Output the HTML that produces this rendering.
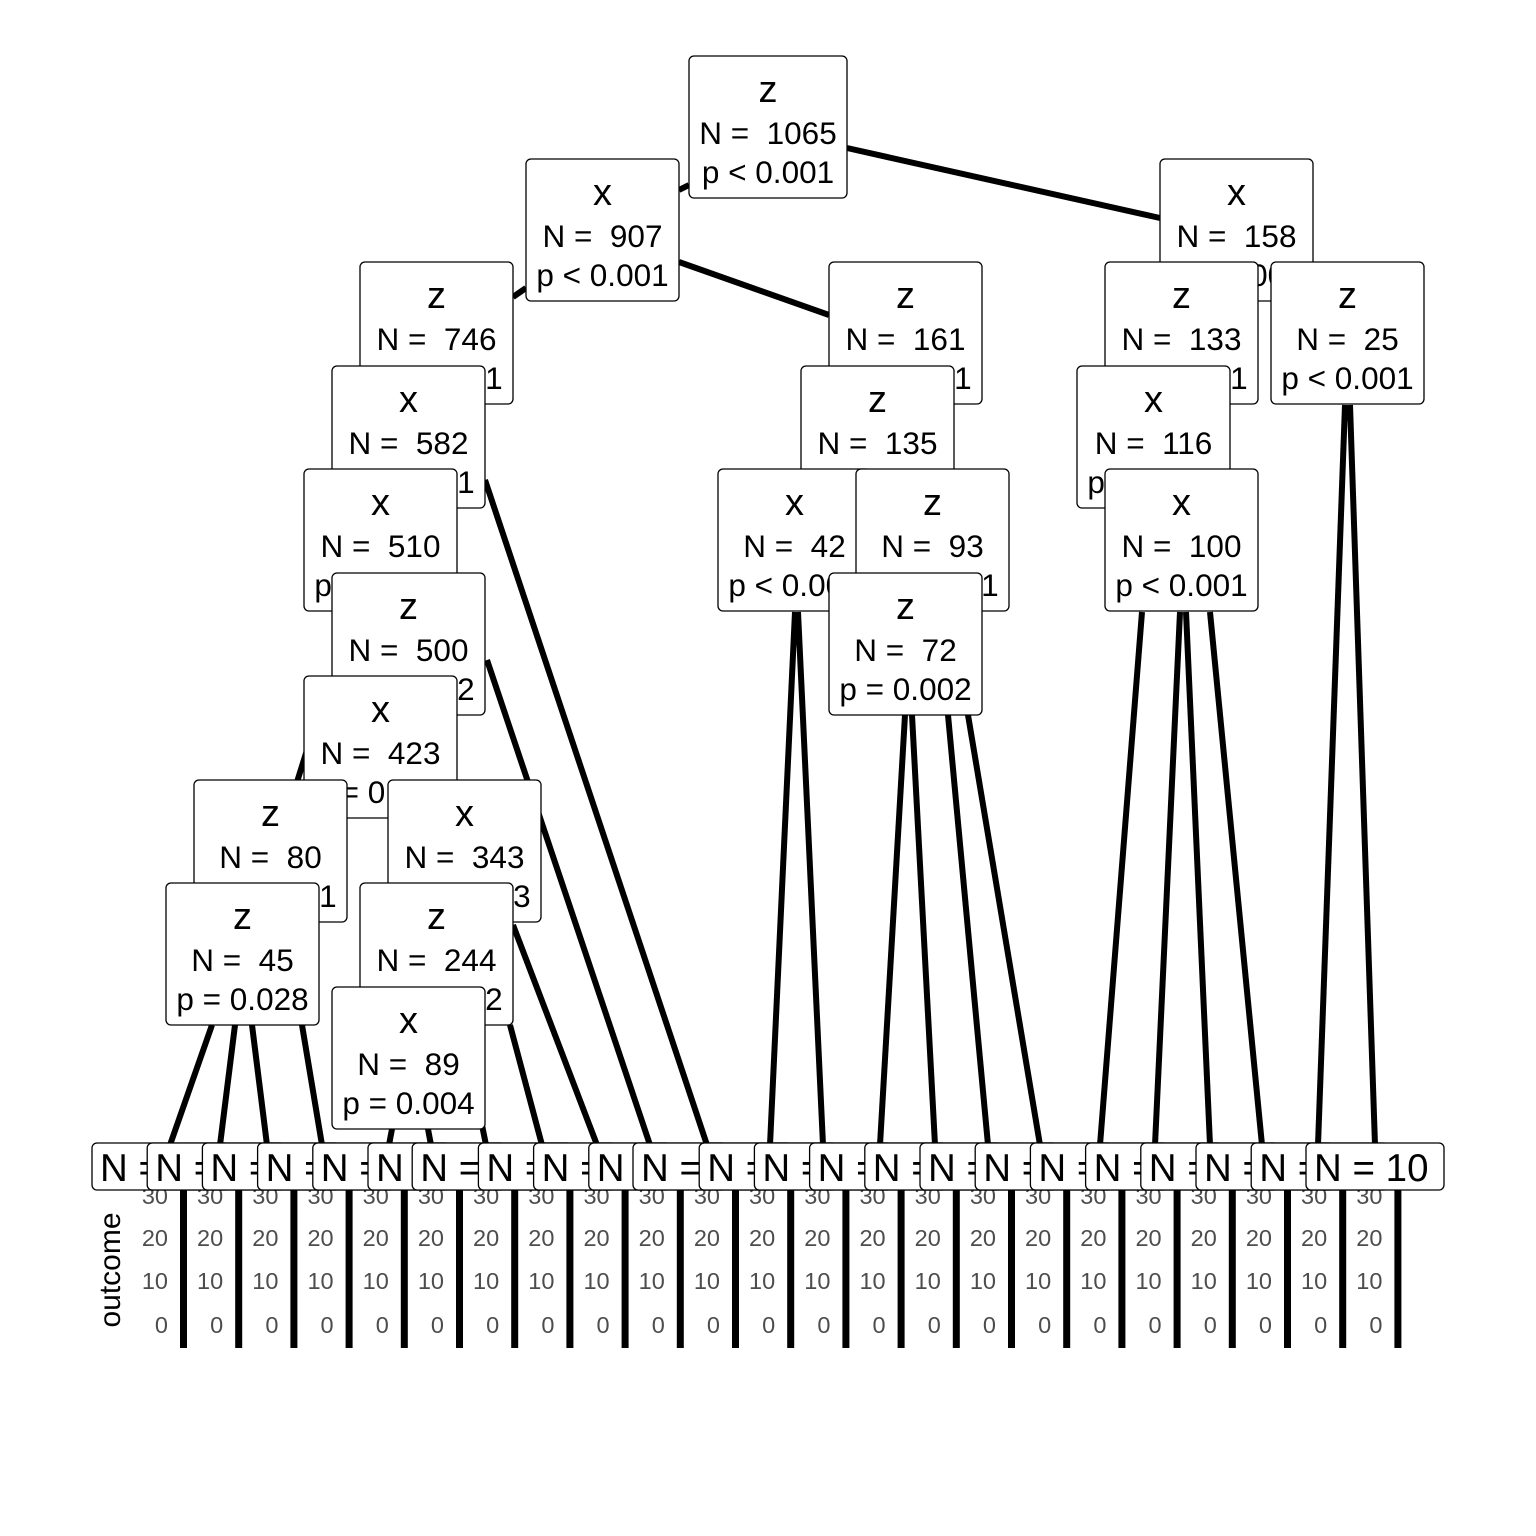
<!DOCTYPE html>
<html><head><meta charset="utf-8"><style>
html,body{margin:0;padding:0;background:#fff;}
svg{display:block;}
text{font-family:"Liberation Sans",Arial,sans-serif;white-space:pre;}
</style></head><body>
<svg width="1536" height="1536" viewBox="0 0 1536 1536" xmlns="http://www.w3.org/2000/svg" xml:space="preserve">
<rect width="1536" height="1536" fill="#fff"/>
<g stroke="#000" stroke-width="6" stroke-linecap="butt">
<line x1="689" y1="185" x2="679" y2="190"/>
<line x1="847" y1="148" x2="1160" y2="218"/>
<line x1="679" y1="262" x2="829" y2="315"/>
<line x1="513" y1="297" x2="526" y2="288"/>
<line x1="485" y1="480" x2="707" y2="1145"/>
<line x1="487" y1="660" x2="650" y2="1145"/>
<line x1="513" y1="925" x2="597" y2="1145"/>
<line x1="510" y1="1025" x2="542" y2="1145"/>
<line x1="307" y1="750" x2="297" y2="782"/>
<line x1="212" y1="1025" x2="170" y2="1145"/>
<line x1="235" y1="1025" x2="220" y2="1145"/>
<line x1="252" y1="1025" x2="267" y2="1145"/>
<line x1="302" y1="1025" x2="322" y2="1145"/>
<line x1="392" y1="1129" x2="389" y2="1145"/>
<line x1="428" y1="1129" x2="431" y2="1145"/>
<line x1="482" y1="1125" x2="486" y2="1145"/>
<line x1="795" y1="612" x2="770" y2="1145"/>
<line x1="798" y1="612" x2="823" y2="1145"/>
<line x1="905" y1="715" x2="880" y2="1145"/>
<line x1="912" y1="715" x2="935" y2="1145"/>
<line x1="948" y1="715" x2="988" y2="1145"/>
<line x1="968" y1="715" x2="1040" y2="1145"/>
<line x1="1142" y1="612" x2="1100" y2="1145"/>
<line x1="1180" y1="612" x2="1155" y2="1145"/>
<line x1="1186" y1="612" x2="1210" y2="1145"/>
<line x1="1210" y1="612" x2="1262" y2="1145"/>
<line x1="1345" y1="405" x2="1318" y2="1145"/>
<line x1="1350" y1="405" x2="1375" y2="1145"/>
</g>
<g id="axes" font-size="23.5" fill="#4d4d4d" text-anchor="end"></g>
<g id="bars" fill="#000"></g>
<g id="nodes" font-size="31.5" text-anchor="middle"></g>
<g id="leaves" font-size="38.5" text-anchor="start"></g>
<text x="0" y="0" font-size="30" fill="#000" text-anchor="middle" transform="translate(120,1270) rotate(-90)">outcome</text>
<script>
var NS="http://www.w3.org/2000/svg";
function el(p,t,a,txt){var e=document.createElementNS(NS,t);for(var k in a)e.setAttribute(k,a[k]);if(txt!=null)e.textContent=txt;p.appendChild(e);return e;}
var ax=document.getElementById('axes'),bars=document.getElementById('bars');
for(var i=0;i<23;i++){var x=180+55.2*i;
 [["30",1204],["20",1246],["10",1289],["0",1333]].forEach(function(t){el(ax,'text',{x:x-12,y:t[1]},t[0]);});
 el(bars,'rect',{x:x,y:1190,width:7,height:158});}
var nodes=[
["z","1065","p < 0.001",689,56,158],
["x","907","p < 0.001",526,159,153],
["x","158","p = 0.001",1160,159,153],
["z","746","p < 0.001",360,262,153],
["z","161","p < 0.001",829,262,153],
["z","133","p < 0.001",1105,262,153],
["z","25","p < 0.001",1271,262,153],
["x","582","p < 0.001",332,366,153],
["z","135","p < 0.001",801,366,153],
["x","116","p < 0.001",1077,366,153],
["x","510","p < 0.001",304,469,153],
["x","42","p < 0.001",718,469,153],
["z","93","p < 0.001",856,469,153],
["x","100","p < 0.001",1105,469,153],
["z","500","p = 0.002",332,573,153],
["z","72","p = 0.002",829,573,153],
["x","423","p = 0.001",304,676,153],
["z","80","p = 0.001",194,780,153],
["x","343","p = 0.003",388,780,153],
["z","45","p = 0.028",166,883,153],
["z","244","p = 0.002",360,883,153],
["x","89","p = 0.004",332,987,153]];
var ng=document.getElementById('nodes');
nodes.forEach(function(n){var x=n[3],y=n[4],w=n[5],c=x+w/2;
 el(ng,'rect',{x:x,y:y,width:w,height:142,rx:5,fill:'#fff',stroke:'#000','stroke-width':1.3});
 el(ng,'text',{x:c,y:y+46,'font-size':38},n[0]);
 el(ng,'text',{x:c,y:y+88},"N =  "+n[1]);
 el(ng,'text',{x:c,y:y+127},n[2]);});
var lg=document.getElementById('leaves');
for(var i=0;i<23;i++){var big=(i==6||i==10);var w=big?160:138;var c=92+69+55.2*i;if(i==22)c=1306+69;
 var x=c-w/2;
 el(lg,'rect',{x:x,y:1143,width:w,height:47,rx:5,fill:'#fff',stroke:'#000','stroke-width':1.3});
 el(lg,'text',{x:x+8,y:1181},big?"N = 100":"N = 10");}
</script>
</svg>
</body></html>
